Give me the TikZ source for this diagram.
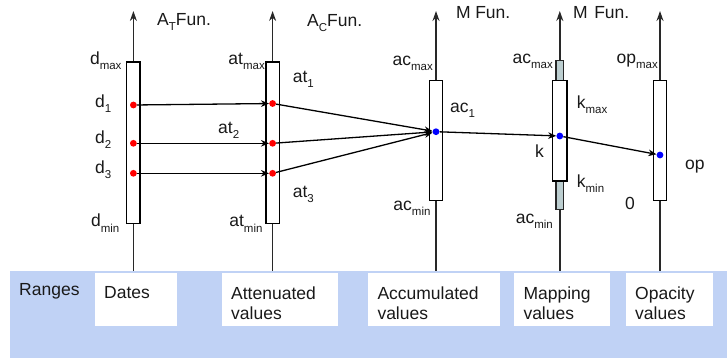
\documentclass[tikz,border=0pt]{standalone}
\usepackage{fontspec}
\setmainfont{Liberation Sans}
\usetikzlibrary{arrows.meta}
\newcommand{\lsub}[1]{\raisebox{-5.5pt}{\fontsize{11.5}{12}\selectfont #1}}
\definecolor{bandblue}{RGB}{192,210,245}
\definecolor{greyfill}{RGB}{188,206,208}
\definecolor{axisgray}{RGB}{40,40,40}
\definecolor{txt}{RGB}{25,25,25}
\begin{document}
\begin{tikzpicture}[x=1pt,y=-1pt,
  lbl/.style={inner sep=0pt, text=txt, font=\fontsize{17.5}{20}\selectfont},
  boxtxt/.style={inner sep=0pt, text=txt, anchor=north west, align=left, font=\fontsize{17.5}{20}\selectfont},
  axisline/.style={draw=axisgray, line width=1.4pt, -{Stealth[length=10pt,width=7pt]}},
  bar/.style={draw=black, fill=white, line width=1.5pt},
  greybar/.style={draw=black!85, fill=greyfill, line width=1.3pt},
  reddot/.style={circle, fill=red, inner sep=0pt, minimum size=6.8pt},
  bluedot/.style={circle, fill=blue, inner sep=0pt, minimum size=6.8pt},
  arr/.style={draw=black, line width=1.3pt, -{Stealth[length=8pt,width=6.5pt,inset=2.5pt]}},
]
\useasboundingbox (0,0) rectangle (727,359);
% band
\fill[bandblue] (10,270.7) rectangle (727,358);
\fill[white] (95,273.3) rectangle (176.7,325.7);
\fill[white] (221.7,273.3) rectangle (338.3,325.7);
\fill[white] (368.3,273.3) rectangle (500,325.7);
\fill[white] (514,273.3) rectangle (610,325.7);
\fill[white] (625.7,273.3) rectangle (712.7,325.7);
% axes
\foreach \i/\x in {1/133.4,2/272.6,3/436,4/559.8,5/660}{
  \coordinate (ab\i) at (\x,270.7);
  \coordinate (at\i) at (\x,11);
  \draw[axisline] (ab\i) -- (at\i);
}
% bars
\draw[bar] (126.7,62) rectangle (140,223.3);
\draw[bar] (266,62) rectangle (279.3,223.3);
\draw[bar] (429.3,80.7) rectangle (442.7,200.7);
\draw[greybar] (556,60.7) rectangle (563.4,209.3);
\draw[bar] (552.7,80.7) rectangle (567,181);
\draw[bar] (653.3,80.7) rectangle (666.7,200.7);
% dots
\node[reddot] (d1) at (133.4,105) {};
\node[reddot] (d2) at (133.4,143.3) {};
\node[reddot] (d3) at (133.4,173.3) {};
\node[reddot] (t1) at (272.6,103.5) {};
\node[reddot] (t2) at (272.6,143.3) {};
\node[reddot] (t3) at (272.6,173.3) {};
\node[bluedot] (c) at (436,131.7) {};
\node[bluedot] (k) at (559.8,136) {};
\node[bluedot] (o) at (660,155) {};
% arrows
\draw[arr] (d1) -- (t1);
\draw[arr] (d2) -- (t2);
\draw[arr] (d3) -- (t3);
\draw[arr] (t1) -- (c);
\draw[arr] (t2) -- (c);
\draw[arr] (t3) -- (c);
\draw[arr] (c) -- (k);
\draw[arr] (k) -- (o);
% top labels
\node[lbl, anchor=base west] (fa) at (157,25) {A\lsub{T}Fun.};
\node[lbl, anchor=base west] (fb) at (307,26) {A\lsub{C}Fun.};
\node[lbl, anchor=base west] (fc) at (456,18) {M\hspace{4.5pt}Fun.};
\node[lbl, anchor=base west] (fd) at (573,18) {M\hspace{6.5pt}Fun.};
% axis 1 labels
\node[lbl, anchor=base east] (ldmax) at (121.7,64) {d\lsub{max}};
\node[lbl, anchor=base west] (ld1) at (95,107) {d\lsub{1}};
\node[lbl, anchor=base west] (ld2) at (95,143) {d\lsub{2}};
\node[lbl, anchor=base west] (ld3) at (95,173) {d\lsub{3}};
\node[lbl, anchor=base east] (ldmin) at (119.5,226.5) {d\lsub{min}};
% axis 2 labels
\node[lbl, anchor=base east] (ltmax) at (265,64) {at\lsub{max}};
\node[lbl, anchor=base west] (lt1) at (292.7,82) {at\lsub{1}};
\node[lbl, anchor=base west] (lt2) at (218,133) {at\lsub{2}};
\node[lbl, anchor=base west] (lt3) at (292.7,197) {at\lsub{3}};
\node[lbl, anchor=base east] (ltmin) at (262.7,226.5) {at\lsub{min}};
% axis 3 labels
\node[lbl, anchor=base east] (lcmax) at (433,65) {ac\lsub{max}};
\node[lbl, anchor=base west] (lc1) at (450,112) {ac\lsub{1}};
\node[lbl, anchor=base east] (lcmin) at (430.7,210) {ac\lsub{min}};
% axis 4 labels
\node[lbl, anchor=base east] (lmmax) at (553,63) {ac\lsub{max}};
\node[lbl, anchor=base west] (lkmax) at (576.7,108) {k\lsub{max}};
\node[lbl, anchor=base west] (lk) at (535,157) {k};
\node[lbl, anchor=base west] (lkmin) at (576.7,187) {k\lsub{min}};
\node[lbl, anchor=base east] (lmmin) at (553,223) {ac\lsub{min}};
% axis 5 labels
\node[lbl, anchor=base east] (lomax) at (658,63) {op\lsub{max}};
\node[lbl, anchor=base west] (lop) at (685,169) {op};
\node[lbl, anchor=base west] (lzero) at (625,209) {0};
% ranges
\node[lbl, anchor=base west] (lr) at (19,295.5) {Ranges};
\node[boxtxt] (r1) at (104,286.4) {Dates};
\node[boxtxt] (r2) at (231,286.4) {Attenuated\\values};
\node[boxtxt] (r3) at (377.3,286.4) {Accumulated\\values};
\node[boxtxt] (r4) at (523.3,286.4) {Mapping\\values};
\node[boxtxt] (r5) at (635,286.4) {Opacity\\values};
\end{tikzpicture}
\end{document}
